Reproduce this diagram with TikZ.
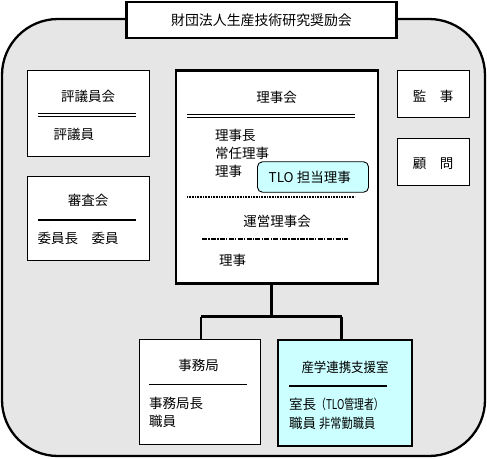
\documentclass[tikz,border=0pt]{standalone}
\usepackage{fontspec}
\setmainfont{Noto Sans CJK JP}
\usepackage{graphicx}
\definecolor{panel}{HTML}{E6E6E6}
\definecolor{tlocyan}{HTML}{CCFFFF}
\newcommand{\jpfont}{\fontsize{13.5}{16}\selectfont}
\tikzset{
  thinbox/.style={draw, fill=white, line width=0.9pt, inner sep=0pt},
  heavybox/.style={draw, fill=white, line width=2.3pt, inner sep=0pt},
  txt/.style={inner sep=0pt, font=\jpfont},
  septhin/.style={line width=0.8pt},
  septhick/.style={line width=2pt},
  conn/.style={line width=2.8pt},
}
\begin{document}
\begin{tikzpicture}[x=1pt,y=-1pt]
\useasboundingbox (0,0) rectangle (487,458);
% outer panel
\draw[fill=panel, line width=2.3pt, rounded corners=56pt] (2,19) rectangle (485,456);
% title
\node[heavybox, minimum width=270pt, minimum height=36pt] (title) at (261.5,20) {};
\node[txt, font=\fontsize{13.9}{16}\selectfont] (titletxt) at (261.5,20.5) {財団法人生産技術研究奨励会};

% 評議員会
\node[thinbox, minimum width=122pt, minimum height=86pt] (hyogi) at (88.3,113.3) {};
\node[txt] (hyogit) at (88,96.5) {評議員会};
\draw[septhin] (38,113.3) -- (136,113.3);
\draw[septhin] (38,116) -- (136,116);
\node[txt, anchor=west] (hyogim) at (53.5,134) {評議員};

% 審査会
\node[thinbox, minimum width=122pt, minimum height=84pt] (shinsa) at (88.3,218.8) {};
\node[txt] (shinsat) at (88,200.5) {審査会};
\draw[septhick] (38,220) -- (136,220);
\node[txt, anchor=west] (shinsam) at (37.5,238.5) {委員長　委員};

% 理事会
\node[heavybox, minimum width=202pt, minimum height=213pt] (riji) at (277,177) {};
\node[txt] (rijit) at (276.5,97) {理事会};
\draw[septhin] (187,114.3) -- (355,114.3);
\draw[septhin] (187,117) -- (355,117);
\node[txt, anchor=west] (riji1) at (215,135) {理事長};
\node[txt, anchor=west] (riji2) at (215,153) {常任理事};
\node[txt, anchor=west] (riji3) at (215,171) {理事};
\node[draw, fill=tlocyan, line width=0.9pt, rounded corners=5pt, minimum width=111pt, minimum height=30.5pt, inner sep=0pt] (tlo) at (313,177) {};
\node[txt, anchor=west] (tlot) at (268.5,177.5) {TLO 担当理事};
\draw[line width=1.6pt, dash pattern=on 1pt off 0.6pt] (187,197) -- (355,197);
\node[txt] (uneit) at (277,221) {運営理事会};
\draw[line width=1.4pt, dash pattern=on 5pt off 1.3pt on 1.3pt off 1.3pt] (202,239) -- (348,239);
\node[txt, anchor=west] (riji4) at (219,260.5) {理事};

% 監事・顧問
\node[thinbox, minimum width=72pt, minimum height=46.5pt] (kanji) at (433,94) {};
\node[txt] (kanjit) at (433,96) {監　事};
\node[thinbox, minimum width=72pt, minimum height=47pt] (komon) at (433,161.5) {};
\node[txt] (komont) at (433,163.5) {顧　問};

% 事務局
\node[thinbox, minimum width=120.7pt, minimum height=105pt] (jimu) at (199.7,391.8) {};
\node[txt] (jimut) at (198.5,365.5) {事務局};
\draw[septhin] (149,384.3) -- (246.5,384.3);
\node[txt, anchor=west] (jimu1) at (149,403) {事務局長};
\node[txt, anchor=west] (jimu2) at (149,421.5) {職員};

% 産学連携支援室
\node[heavybox, fill=tlocyan, minimum width=134pt, minimum height=105.5pt] (sangaku) at (345,393) {};
\node[txt] (sangakut) at (345,367) {\scalebox{0.92}[1]{産学連携支援室}};
\draw[septhick] (289,386) -- (386.5,386);
\node[txt, anchor=west] (sangaku1) at (289,404.5) {室長\scalebox{0.73}[1]{（TLO管理者）}};
\node[txt, anchor=west] (sangaku2) at (289,423.5) {職員 \scalebox{0.83}[1]{非常勤職員}};

% connectors
\coordinate (jc) at (271.7,316.7);
\coordinate (jx) at (201,316.7);
\coordinate (sx) at (341.7,316.7);
\draw[conn] (jc |- riji.south) -- (jc);
\draw[conn] (jx) -- (sx);
\draw[conn] (jx) -- (jx |- jimu.north);
\draw[conn] (sx) -- (sx |- sangaku.north);
\end{tikzpicture}
\end{document}
